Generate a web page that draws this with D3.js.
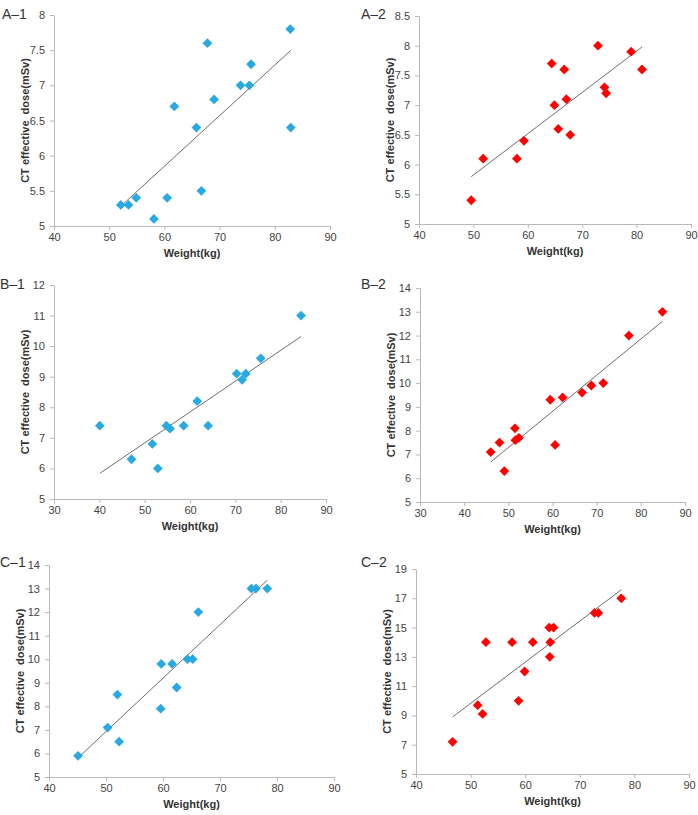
<!DOCTYPE html>
<html>
<head>
<meta charset="utf-8">
<script src="https://cdn.jsdelivr.net/npm/d3@7"></script>
<style>
    body { margin: 0; background: #fff; }
    svg { display: block; font-family: "Liberation Sans", Arial, sans-serif; }
    .axis path, .axis line { stroke: #b8b8b8; }
    .axis text { fill: #444; font-size: 11px; }
    .axis-title { font-size: 11px; font-weight: bold; fill: #333; }
    .panel-label { font-size: 14px; fill: #333; }
</style>
</head>
<body>
<div id="chart"></div>
<script>
// Weight (kg) and CT effective dose (mSv)
const a1Weight = [52.1, 53.5, 54.9, 58.1, 60.5, 61.8, 65.8, 66.7, 67.8, 69.0, 73.8, 75.4, 75.7, 82.8, 82.9];
const a1Dose   = [5.3, 5.3, 5.4, 5.1, 5.4, 6.7, 6.4, 5.5, 7.6, 6.8, 7.0, 7.0, 7.3, 7.8, 6.4];

const a2Weight = [49.6, 51.8, 58.0, 59.3, 64.4, 64.9, 65.6, 66.7, 67.1, 67.8, 72.9, 74.1, 74.4, 79.0, 81.0];
const a2Dose   = [5.4, 6.1, 6.1, 6.4, 7.7, 7.0, 6.6, 7.6, 7.1, 6.5, 8.0, 7.3, 7.2, 7.9, 7.6];

const b1Weight = [40.1, 47.1, 51.7, 52.9, 54.8, 55.6, 58.6, 61.6, 64.0, 70.3, 71.5, 72.3, 75.6, 84.5];
const b1Dose   = [7.4, 6.3, 6.8, 6.0, 7.4, 7.3, 7.4, 8.2, 7.4, 9.1, 8.9, 9.1, 9.6, 11.0];

const b2Weight = [46.0, 48.0, 49.1, 51.5, 51.6, 52.4, 59.5, 60.6, 62.3, 66.7, 68.8, 71.5, 77.3, 84.9];
const b2Dose   = [7.1, 7.5, 6.3, 8.1, 7.6, 7.7, 9.3, 7.4, 9.4, 9.6, 9.9, 10.0, 12.0, 13.0];

const c1Weight = [45.1, 50.3, 52.0, 52.3, 59.6, 59.7, 61.6, 62.4, 64.3, 65.2, 66.2, 75.5, 76.3, 78.3];
const c1Dose   = [5.9, 7.1, 8.5, 6.5, 7.9, 9.8, 9.8, 8.8, 10.0, 10.0, 12.0, 13.0, 13.0, 13.0];

const c2Weight = [46.7, 51.3, 52.2, 52.8, 57.6, 58.8, 59.9, 61.4, 64.4, 64.5, 64.6, 65.2, 72.7, 73.4, 77.6];
const c2Dose   = [7.2, 9.7, 9.1, 14.0, 14.0, 10.0, 12.0, 14.0, 15.0, 13.0, 14.0, 15.0, 16.0, 16.0, 17.0];

// axis ranges and ticks
const xDomainA = [40, 90], xTicksA = [40, 50, 60, 70, 80, 90];
const xDomainB = [30, 90], xTicksB = [30, 40, 50, 60, 70, 80, 90];
const xDomainC = [40, 90], xTicksC = [40, 50, 60, 70, 80, 90];
const yTicksA1 = [5, 5.5, 6, 6.5, 7, 7.5, 8];
const yTicksA2 = [5, 5.5, 6, 6.5, 7, 7.5, 8, 8.5];
const yTicksB1 = [5, 6, 7, 8, 9, 10, 11, 12];
const yTicksB2 = [5, 6, 7, 8, 9, 10, 11, 12, 13, 14];
const yTicksC1 = [5, 6, 7, 8, 9, 10, 11, 12, 13, 14];
const yTicksC2 = [5, 7, 9, 11, 13, 15, 17, 19];

const BLUE = '#29a9e1';
const RED = '#ff0000';

const width = 698, height = 815;

const svg = d3.select('#chart')
    .append('svg')
    .attr('width', width)
    .attr('height', height);

// plot boxes in page pixels
const panels = [
    { label: 'A\u20131', lx: 2,   ly: 19,  box: [54, 330, 15, 226],  x: a1Weight, y: a1Dose, xd: xDomainA, xt: xTicksA, yt: yTicksA1, color: BLUE },
    { label: 'A\u20132', lx: 361, ly: 19,  box: [419, 691, 16, 224], x: a2Weight, y: a2Dose, xd: xDomainA, xt: xTicksA, yt: yTicksA2, color: RED },
    { label: 'B\u20131', lx: 0,   ly: 289, box: [54, 326, 285, 499], x: b1Weight, y: b1Dose, xd: xDomainB, xt: xTicksB, yt: yTicksB1, color: BLUE },
    { label: 'B\u20132', lx: 361, ly: 289, box: [420, 685, 288, 502], x: b2Weight, y: b2Dose, xd: xDomainB, xt: xTicksB, yt: yTicksB2, color: RED },
    { label: 'C\u20131', lx: 0,   ly: 567, box: [49, 334, 565, 777], x: c1Weight, y: c1Dose, xd: xDomainC, xt: xTicksC, yt: yTicksC1, color: BLUE },
    { label: 'C\u20132', lx: 361, ly: 567, box: [416, 689, 569, 774], x: c2Weight, y: c2Dose, xd: xDomainC, xt: xTicksC, yt: yTicksC2, color: RED }
];

// least squares line, like the Excel linear trendline
function linearFit(xs, ys) {
    const mx = d3.mean(xs), my = d3.mean(ys);
    let sxy = 0, sxx = 0;
    xs.forEach((v, i) => {
        sxy += (v - mx) * (ys[i] - my);
        sxx += (v - mx) * (v - mx);
    });
    const slope = sxy / sxx;
    return v => my + slope * (v - mx);
}

panels.forEach(p => {
    const [left, right, top, bottom] = p.box;

    const x = d3.scaleLinear().domain(p.xd).range([left, right]);
    const y = d3.scaleLinear().domain(d3.extent(p.yt)).range([bottom, top]);

    const g = svg.append('g');

    g.append('g')
        .attr('class', 'axis')
        .attr('transform', `translate(0,${bottom})`)
        .call(d3.axisBottom(x).tickValues(p.xt).tickSize(4).tickSizeOuter(0).tickPadding(3))
        .call(a => a.select('.domain').attr('d', `M${left},0.5H${right}`));

    g.append('g')
        .attr('class', 'axis')
        .attr('transform', `translate(${left},0)`)
        .call(d3.axisLeft(y).tickValues(p.yt).tickSize(4).tickSizeOuter(0).tickPadding(5)
            .tickFormat(d3.format('~g')));

    // trendline
    const fit = linearFit(p.x, p.y);
    const [x0, x1] = d3.extent(p.x);
    g.append('line')
        .attr('x1', x(x0)).attr('y1', y(fit(x0)))
        .attr('x2', x(x1)).attr('y2', y(fit(x1)))
        .attr('stroke', '#6e6e6e')
        .attr('stroke-width', 1);

    // diamond markers
    const diamond = d3.symbol().type(d3.symbolSquare).size(48);
    g.selectAll('.pt')
        .data(p.x.map((v, i) => ({ w: v, d: p.y[i] })))
        .join('path')
        .attr('class', 'pt')
        .attr('d', diamond)
        .attr('transform', d => `translate(${x(d.w)},${y(d.d)}) rotate(45)`)
        .attr('fill', p.color);

    // titles
    g.append('text')
        .attr('class', 'axis-title')
        .attr('x', (left + right) / 2)
        .attr('y', bottom + 31)
        .attr('text-anchor', 'middle')
        .text('Weight(kg)');

    g.append('text')
        .attr('class', 'axis-title')
        .attr('transform', `translate(${left - 25},${(top + bottom) / 2}) rotate(-90)`)
        .attr('text-anchor', 'middle')
        .attr('xml:space', 'preserve')
        .style('white-space', 'pre')
        .text('CT effective  dose(mSv)');

    g.append('text')
        .attr('class', 'panel-label')
        .attr('x', p.lx)
        .attr('y', p.ly)
        .text(p.label);
});
</script>
</body>
</html>
